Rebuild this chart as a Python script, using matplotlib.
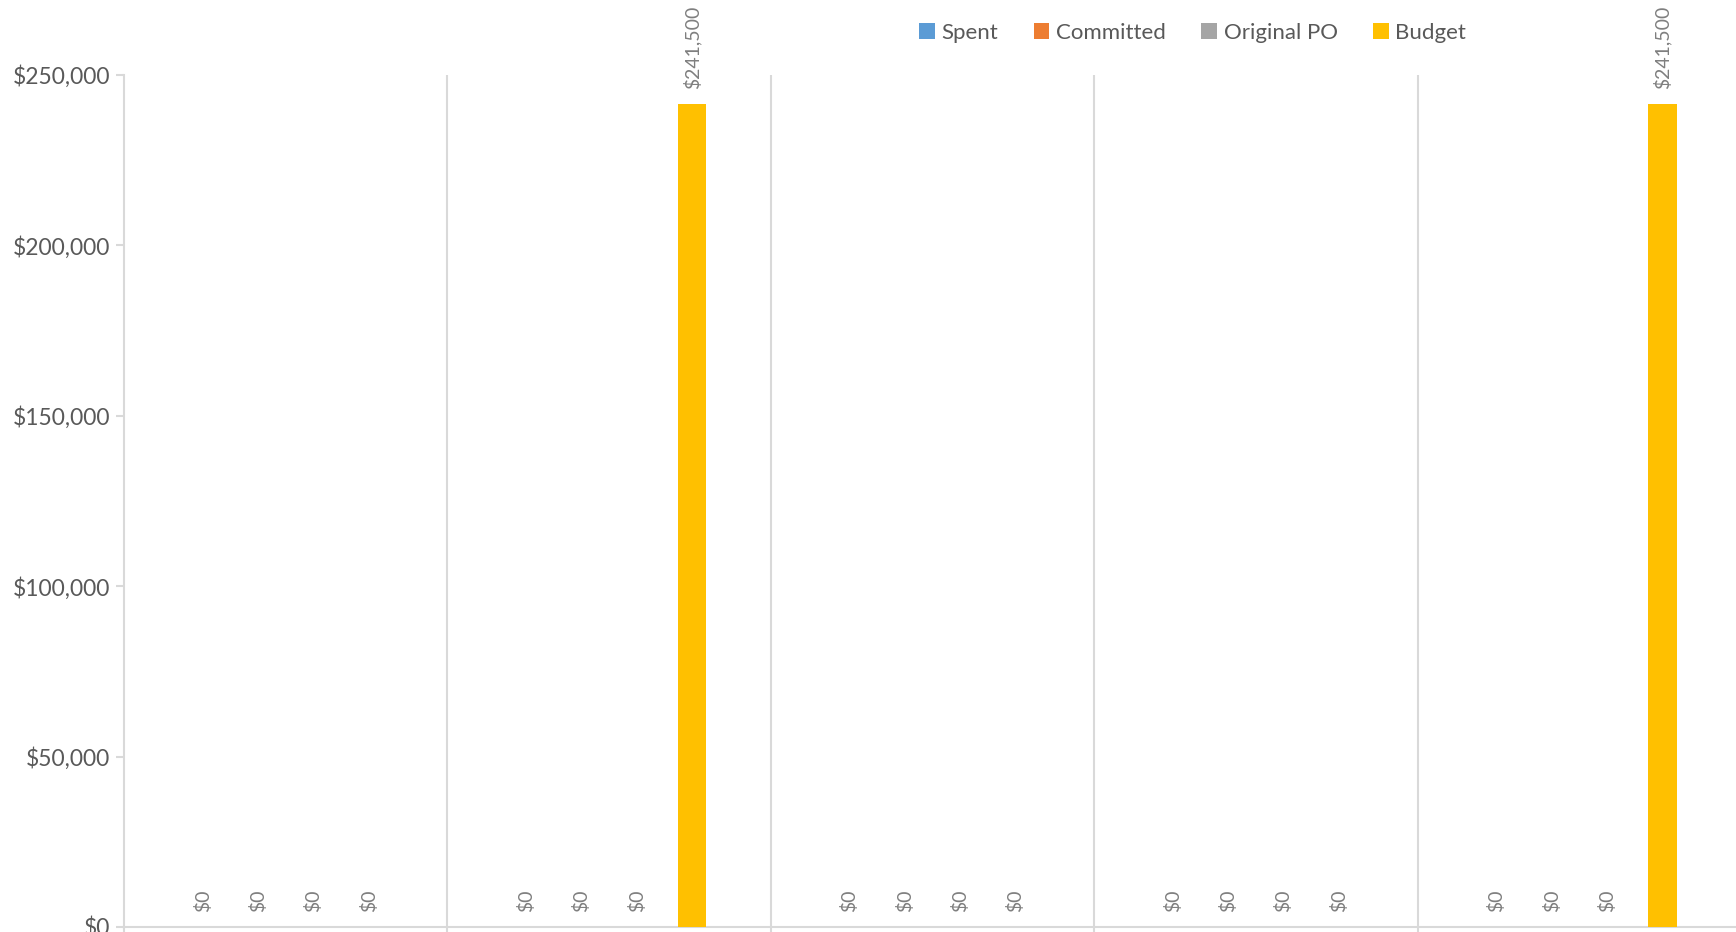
import matplotlib
matplotlib.use("Agg")
import matplotlib.pyplot as plt
from matplotlib.ticker import FuncFormatter
import numpy as np

plt.rcParams['font.family'] = ['Lato', 'DejaVu Sans']

# Five cost groups; the category names sit below the visible area
categories = ["", "", "", "", ""]
series_names = ["Spent", "Committed", "Original PO", "Budget"]
spent = [0, 0, 0, 0, 0]
committed = [0, 0, 0, 0, 0]
original_po = [0, 0, 0, 0, 0]
budget = [0, 241500, 0, 0, 241500]
colors = ["#5B9BD5", "#ED7D31", "#A5A5A5", "#FFC000"]

W, H = 1736, 932
fig = plt.figure(figsize=(W / 100, H / 100), dpi=100)
ax = fig.add_axes([124 / W, 5 / H, (1741 - 124) / W, 852 / H])

x = np.arange(len(categories))
step = 0.171
bar_w = 0.089
label_color = "#7F7F7F"
axis_grey = "#D9D9D9"
text_grey = "#595959"

for j, (name, vals, col) in enumerate(zip(series_names, [spent, committed, original_po, budget], colors)):
    pos = x + (j - 1.5) * step
    ax.bar(pos, vals, width=bar_w, color=col, label=name, zorder=3)
    for px, v in zip(pos, vals):
        ax.annotate(f"${v:,.0f}", xy=(px, v), xytext=(0, 11), textcoords="offset points",
                    rotation=90, ha="center", va="bottom", fontsize=14, color=label_color)

ax.set_xlim(-0.5, len(categories) - 0.5)
ax.set_ylim(0, 250000)
ax.set_yticks(np.arange(0, 250001, 50000))
ax.yaxis.set_major_formatter(FuncFormatter(lambda v, p: f"${v:,.0f}"))
ax.tick_params(axis="y", colors=axis_grey, labelcolor=text_grey, labelsize=16.5, length=6, width=1.5, pad=4)

# Category boundaries: gridlines plus tick marks below the baseline
bounds = np.arange(-0.5, len(categories) + 0.5, 1.0)
ax.set_xticks(bounds)
ax.set_xticklabels([])
ax.tick_params(axis="x", colors=axis_grey, length=8, width=1.5)
for b in bounds[1:-1]:
    ax.axvline(b, color=axis_grey, lw=1.5, zorder=1)

for s in ["top", "right"]:
    ax.spines[s].set_visible(False)
for s in ["left", "bottom"]:
    ax.spines[s].set_color(axis_grey)
    ax.spines[s].set_linewidth(1.5)

fig.legend(loc="center", bbox_to_anchor=(0.687, 0.965), ncol=4, frameon=False,
           fontsize=16, handlelength=0.7, handleheight=0.7, handletextpad=0.3,
           columnspacing=1.6, labelcolor=text_grey)

fig.savefig("out.png", dpi=100)
